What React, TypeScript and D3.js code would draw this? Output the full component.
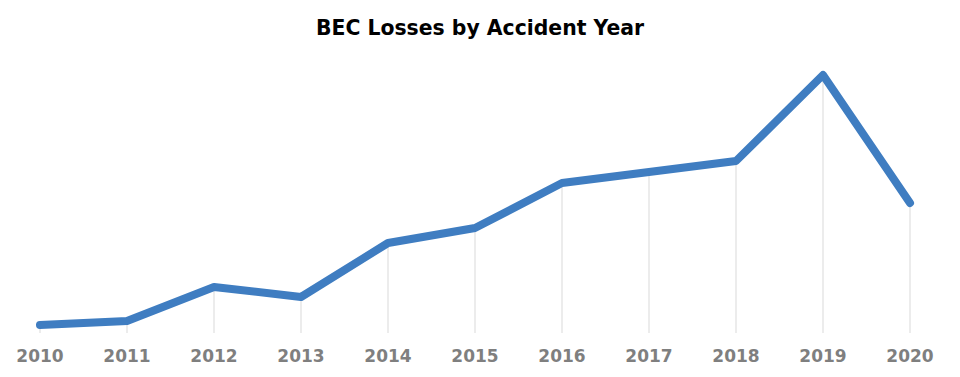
import React from "react";
import * as d3 from "d3";

const years = ["2010","2011","2012","2013","2014","2015","2016","2017","2018","2019","2020"];
const losses = [6, 10, 44, 34, 88, 103, 148, 159, 170, 256, 128];
const title = "BEC Losses by Accident Year";

const W = 960, H = 377;

export default function App() {
  const x = d3.scalePoint<string>().domain(years).range([40, 910]);
  const y = d3.scaleLinear().domain([0, 256]).range([331, 75]);
  const line = d3.line<number>().x((_, i) => x(years[i])!).y(d => y(d));
  return (
    <svg width={W} height={H} style={{ position: "absolute", left: 0, top: 0 }}>
      <rect width={W} height={H} fill="#fff" />
      <text x={480} y={35} textAnchor="middle" fontFamily="DejaVu Sans" fontWeight="bold" fontSize={20.4} fill="#000">{title}</text>
      {years.map((yr, i) => (
        <line key={yr} x1={x(yr)} x2={x(yr)} y1={y(losses[i])} y2={y(0) + 2} stroke="#d9d9d9" strokeWidth={1} />
      ))}
      <path d={line(losses)!} fill="none" stroke="#3f7dc1" strokeWidth={8} strokeLinejoin="round" strokeLinecap="round" />
      {years.map(yr => (
        <text key={yr} x={x(yr)} y={362} textAnchor="middle" fontFamily="DejaVu Sans" fontWeight="bold" fontSize={17} fill="#7f7f7f">{yr}</text>
      ))}
    </svg>
  );
}
